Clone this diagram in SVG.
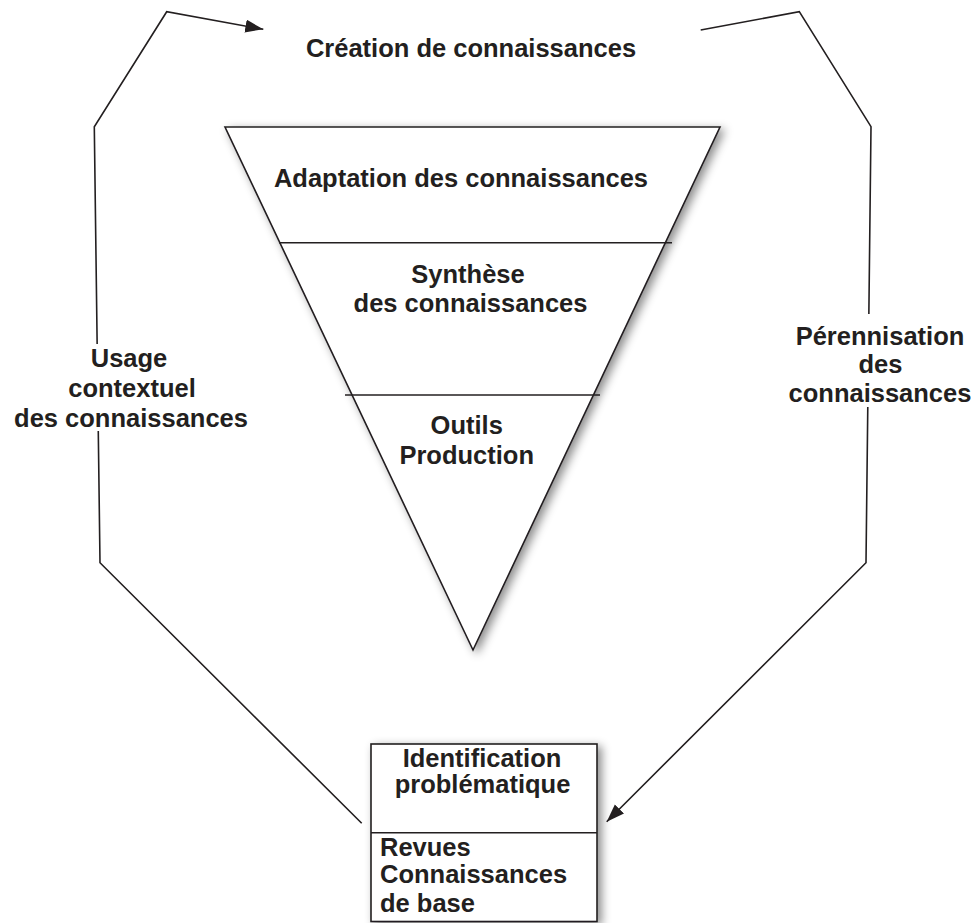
<svg xmlns="http://www.w3.org/2000/svg" width="977" height="923" viewBox="0 0 977 923">
  <style>
    .t { font-family: "Liberation Sans", Arial, Helvetica, sans-serif; font-weight: bold; font-size: 25.5px; fill: #231f20; }
    .c { text-anchor: middle; }
    .ln { fill: none; stroke: #231f20; stroke-width: 1.6; }
    .shape { fill: #ffffff; stroke: #231f20; stroke-width: 1.6; }
  </style>
  <defs>
    <marker id="arrow" markerUnits="userSpaceOnUse" markerWidth="20" markerHeight="14" refX="18" refY="6.5" orient="auto">
      <path d="M0,0 L18,6.5 L0,13 z" fill="#231f20"/>
    </marker>
    <filter id="shadow" x="-20%" y="-20%" width="140%" height="140%">
      <feGaussianBlur in="SourceAlpha" stdDeviation="5"/>
      <feOffset dx="4" dy="3" result="b"/>
      <feFlood flood-color="#000000" flood-opacity="0.45"/>
      <feComposite in2="b" operator="in"/>
      <feMerge>
        <feMergeNode/>
        <feMergeNode in="SourceGraphic"/>
      </feMerge>
    </filter>
  </defs>
  <rect width="977" height="923" fill="#ffffff"/>

  <g id="connectors">
    <path class="ln" d="M361.7,823.3 L100,562.7 L94.3,126.7 L166.7,11.7 L263.3,29.3" marker-end="url(#arrow)"/>
    <path class="ln" d="M700.7,30 L799.3,11.7 L871,126.7 L866,562.7 L606.7,821.7" marker-end="url(#arrow)"/>
  </g>

  <g id="creation">
    <text class="t c" x="471" y="56.5">Création de connaissances</text>
  </g>

  <g id="pyramid">
    <polygon class="shape" points="225,127 720,127 473,650" filter="url(#shadow)"/>
    <line class="ln" x1="279" y1="242.7" x2="672" y2="242.7"/>
    <line class="ln" x1="345" y1="395" x2="600" y2="395"/>
  </g>
  <g id="adaptation">
    <text class="t c" x="461" y="186.5">Adaptation des connaissances</text>
  </g>
  <g id="synthese">
    <text class="t c" x="468" y="283">Synthèse</text>
    <text class="t c" x="470.5" y="311.5">des connaissances</text>
  </g>
  <g id="outils">
    <text class="t c" x="466.7" y="434">Outils</text>
    <text class="t c" x="466.7" y="463.5">Production</text>
  </g>

  <g id="usage">
    <rect x="10" y="344" width="245" height="87" fill="#ffffff"/>
    <text class="t c" x="129" y="367">Usage</text>
    <text class="t c" x="132" y="396.5">contextuel</text>
    <text class="t c" x="131" y="426.5">des connaissances</text>
  </g>

  <g id="perennisation">
    <rect x="782" y="314" width="194" height="93" fill="#ffffff"/>
    <text class="t c" x="880" y="345">Pérennisation</text>
    <text class="t c" x="880.5" y="373">des</text>
    <text class="t c" x="880" y="401.5">connaissances</text>
  </g>

  <g id="identification">
    <rect class="shape" x="371" y="744" width="226" height="177.5" filter="url(#shadow)"/>
    <line class="ln" x1="371" y1="832.7" x2="597" y2="832.7"/>
    <text class="t c" x="482" y="766.5">Identification</text>
    <text class="t c" x="482.5" y="793">problématique</text>
  </g>
  <g id="revues">
    <text class="t" x="380" y="856">Revues</text>
    <text class="t" x="380" y="882.5">Connaissances</text>
    <text class="t" x="380" y="911.5">de base</text>
  </g>
</svg>
